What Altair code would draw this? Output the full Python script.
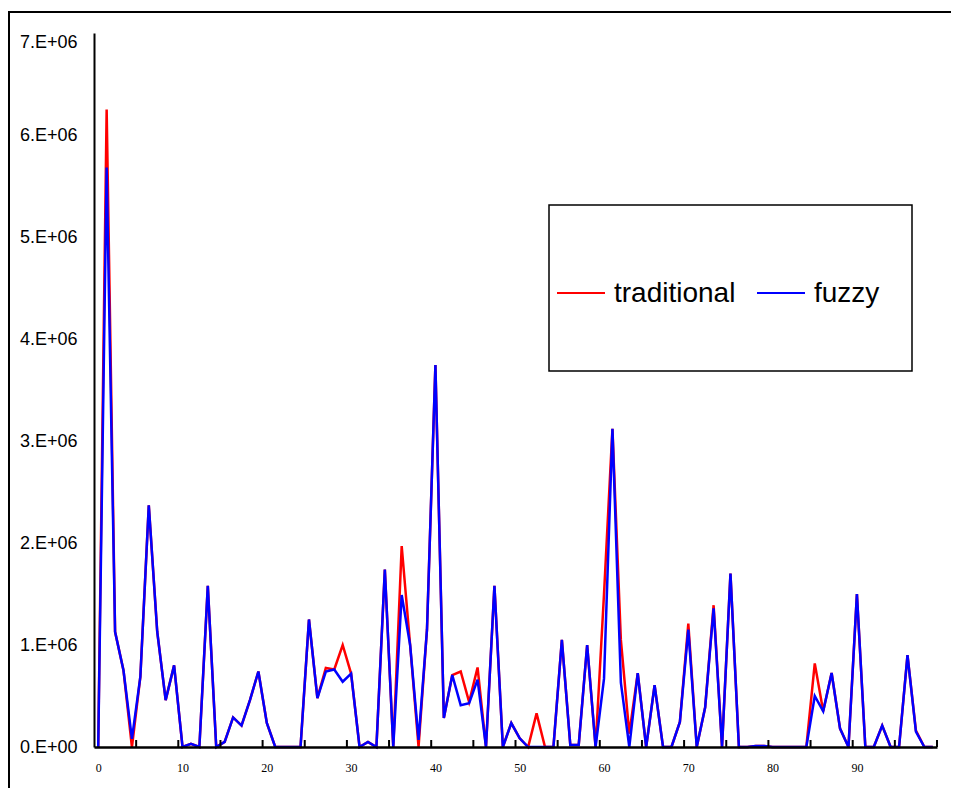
import altair as alt
import pandas as pd

# ---- data (values in millions) ----
series_names = ["traditional", "fuzzy"]
series_colors = ["#ff0000", "#0000ff"]

traditional_m = [
    0, 6.25, 1.13, 0.75, 0, 0.69, 2.37, 1.13, 0.46, 0.80,
    0, 0.03, 0, 1.58, 0, 0.05, 0.29, 0.21, 0.46, 0.74,
    0.235, 0, 0, 0, 0, 1.25, 0.48, 0.775, 0.76, 1.0,
    0.72, 0, 0.05, 0, 1.74, 0, 1.97, 1.0, 0, 1.15,
    3.745, 0.285, 0.705, 0.74, 0.44, 0.78, 0, 1.58, 0, 0.235,
    0.085, 0, 0.33, 0, 0, 1.05, 0.02, 0.02, 1.0, 0,
    1.5, 3.12, 1.05, 0.13, 0.725, 0, 0.605, 0, 0, 0.245,
    1.21, 0, 0.39, 1.39, 0, 1.70, 0, 0, 0.01, 0.01,
    0, 0, 0, 0, 0, 0.82, 0.35, 0.725, 0.18, 0,
    1.50, 0, 0, 0.21, 0, 0, 0.90, 0.16, 0, 0,
]
fuzzy_m = [
    0, 5.68, 1.13, 0.75, 0.08, 0.69, 2.37, 1.13, 0.46, 0.80,
    0, 0.03, 0, 1.58, 0, 0.05, 0.29, 0.21, 0.46, 0.74,
    0.235, 0, 0, 0, 0, 1.25, 0.48, 0.74, 0.76, 0.64,
    0.72, 0, 0.05, 0, 1.74, 0, 1.49, 1.0, 0.07, 1.15,
    3.745, 0.285, 0.705, 0.41, 0.43, 0.66, 0, 1.58, 0, 0.235,
    0.085, 0, 0, 0, 0, 1.05, 0.02, 0.02, 1.0, 0,
    0.67, 3.12, 0.63, 0, 0.725, 0, 0.605, 0, 0, 0.245,
    1.15, 0, 0.39, 1.36, 0, 1.70, 0, 0, 0.01, 0.01,
    0, 0, 0, 0, 0, 0.50, 0.35, 0.725, 0.18, 0,
    1.50, 0, 0, 0.21, 0, 0, 0.90, 0.15, 0, 0,
]
x_label_values = list(range(0, 100, 10))
x_tick_marks = [4.5 + 5 * k for k in range(20)]
y_tick_values = [0, 1e6, 2e6, 3e6, 4e6, 5e6, 6e6, 7e6]
y_tick_labels = ["0.E+00", "1.E+06", "2.E+06", "3.E+06", "4.E+06", "5.E+06", "6.E+06", "7.E+06"]

n = len(traditional_m)
df = pd.DataFrame({
    "idx": list(range(n)) * 2,
    "value": [v * 1e6 for v in traditional_m] + [v * 1e6 for v in fuzzy_m],
    "series": [series_names[0]] * n + [series_names[1]] * n,
})
ticks_df = pd.DataFrame({"pos": x_tick_marks})

W, H = 843, 714
SANS = "Liberation Sans"

label_js = "[" + ",".join("'%s'" % s for s in y_tick_labels) + "]"

x_scale = alt.Scale(domain=[-0.5, 99.5], nice=False, zero=False)
y_scale = alt.Scale(domain=[0, 7e6], nice=False)
color_scale = alt.Scale(domain=series_names, range=series_colors)

x_axis = alt.Axis(values=x_label_values, format="d", tickSize=0,
                  labelFont="Liberation Serif", labelFontSize=12,
                  labelColor="black", labelPadding=15,
                  domainColor="black", domainWidth=2.5, grid=False, zindex=1)
x_enc = alt.X("idx:Q", scale=x_scale, title=None, axis=x_axis)
y_enc = alt.Y("value:Q", scale=y_scale, title=None,
              axis=alt.Axis(values=y_tick_values,
                            labelExpr=label_js + "[round(datum.value/1000000)]",
                            tickSize=0, labelFont=SANS, labelFontSize=18,
                            labelColor="black", labelPadding=17,
                            labelBaseline={"condition": {"test": "datum.value >= 7000000", "value": "top"},
                                           "value": "middle"},
                            domainColor="black", domainWidth=2, grid=False, zindex=1))

base = alt.Chart(df)
lines = []
for name in series_names:
    lines.append(
        base.transform_filter(alt.datum.series == name)
        .mark_line(strokeWidth=2.5, strokeJoin="miter", clip=False)
        .encode(x=x_enc, y=y_enc,
                color=alt.Color("series:N", scale=color_scale, legend=None))
    )

tick_rules = alt.Chart(ticks_df).mark_rule(color="black", strokeWidth=2).encode(
    x=alt.X("pos:Q", scale=x_scale, title=None, axis=x_axis),
    y=alt.value(H), y2=alt.value(H - 7),
)

one = pd.DataFrame({"a": [0]})

# outer chart frame
frame_top = alt.Chart(one).mark_rule(color="black", strokeWidth=2).encode(
    x=alt.value(-86), x2=alt.value(W + 20), y=alt.value(-21))
frame_left = alt.Chart(one).mark_rule(color="black", strokeWidth=2).encode(
    x=alt.value(-85), y=alt.value(-21), y2=alt.value(H + 60))

# legend box
legend_box = alt.Chart(one).mark_rect(fill="white", stroke="black", strokeWidth=1.5).encode(
    x=alt.value(455), x2=alt.value(818), y=alt.value(172), y2=alt.value(338))

legend_layers = [legend_box]
entry_x = [463, 663]
for name, color, lx in zip(series_names, series_colors, entry_x):
    d = pd.DataFrame({"name": [name]})
    legend_layers.append(
        alt.Chart(d).mark_rule(color=color, strokeWidth=2).encode(
            x=alt.value(lx), x2=alt.value(lx + 48), y=alt.value(260)))
    legend_layers.append(
        alt.Chart(d).mark_text(align="left", baseline="middle", font=SANS,
                               fontSize=28, color="black").encode(
            x=alt.value(lx + 57), y=alt.value(261), text="name:N"))

chart = alt.layer(frame_top, frame_left, *lines, tick_rules, *legend_layers).properties(
    width=W, height=H,
    autosize=alt.AutoSizeParams(type="none"),
    padding={"left": 86, "top": 25, "right": 14, "bottom": 41},
    background="white",
).configure_view(stroke=None)

chart.save("out.html", embed_options={"renderer": "svg", "actions": False})
